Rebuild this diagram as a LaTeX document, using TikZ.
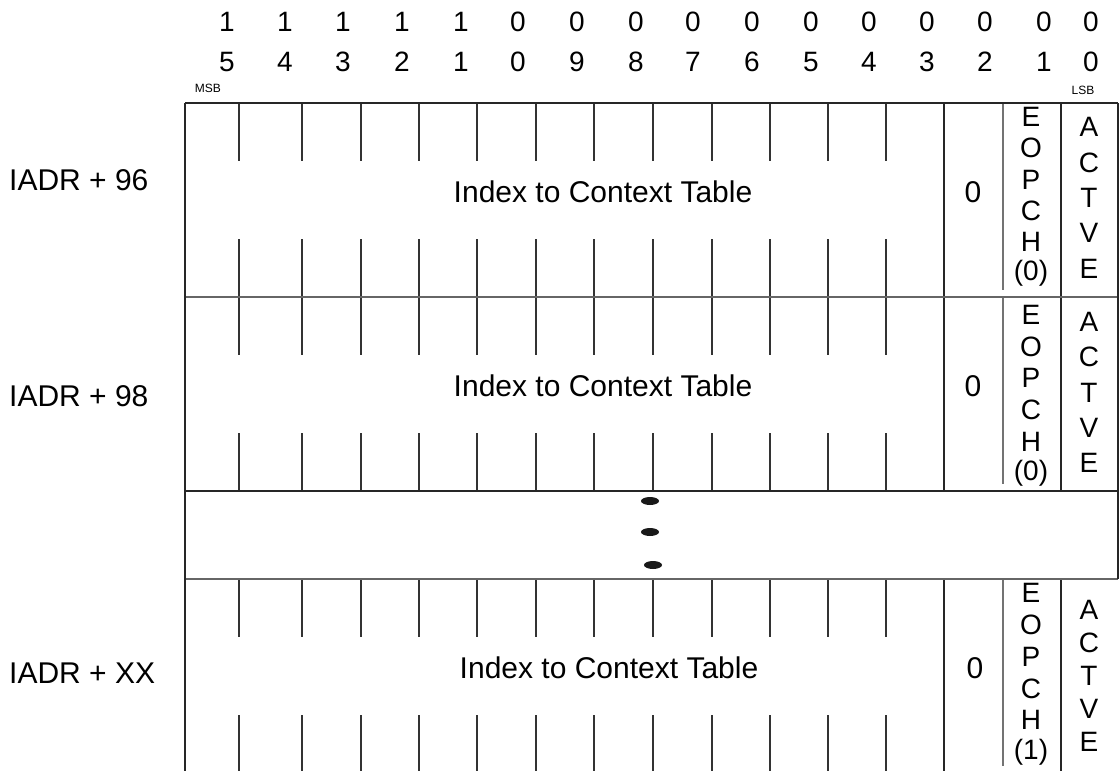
\documentclass[tikz,border=0pt]{standalone}
\usepackage{fontspec}
\setmainfont{Liberation Sans}
\begin{document}
\begin{tikzpicture}[x=1pt,y=-1pt,
  lbl/.style={font=\fontsize{30}{30}\selectfont, inner sep=0pt},
  hdr/.style={font=\fontsize{28}{28}\selectfont, inner sep=0pt},
  tiny/.style={font=\fontsize{12}{12}\selectfont, inner sep=0pt},
  vlet/.style={font=\fontsize{28}{28}\selectfont, inner sep=0pt},
  border/.style={line width=1.6pt, draw=black!85},
  sepline/.style={line width=1.4pt, draw=black!60},
  tickline/.style={line width=1.3pt, draw=black!80},
  thinline/.style={line width=1.2pt, draw=black!55}]
\useasboundingbox (0,0) rectangle (1120,771);

% header bit numbers
\foreach \x/\a/\b [count=\i] in {227/1/5,285/1/4,343/1/3,402/1/2,461/1/1,518/0/0,577/0/9,636/0/8,693/0/7,752/0/6,811/0/5,869/0/4,927/0/3,985/0/2,1044/0/1,1091/0/0}{
  \node[hdr] (hi\i) at (\x,22) {\a};
  \node[hdr] (hj\i) at (\x,62) {\b};
}
\node[tiny] (msb) at (208,88) {MSB};
\node[tiny] (lsb) at (1083,90) {LSB};

% rows
\foreach \t/\lab/\ly/\ix/\zx/\eo/\es/\ch/\ao/\as [count=\r] in
  {103/96/180/603/973/14/31.3/0/24/35.4,
   297/98/396/603/973/18/31.6/0/25/35.3,
   579/XX/673/609/975/14/31.8/1/31/33}{
  \foreach \x in {239,302,361,419,477,536,594,653,712,770,828,886}{
    \draw[tickline] (\x,\t) -- (\x,\t+58);
    \draw[tickline] (\x,\t+136) -- (\x,\t+194);
  }
  \draw[border] (944,\t) -- (944,\t+194);
  \draw[thinline] (1003,\t) -- (1003,\t+187);
  \draw[border] (1061,\t) -- (1061,\t+194);
  \node[lbl, anchor=west] (addr\r) at (9,\ly) {IADR + \lab};
  \node[lbl] (idx\r) at (\ix,\t+89) {Index to Context Table};
  \node[lbl] (zero\r) at (\zx,\t+89) {0};
  \foreach \c [count=\k from 0] in {E,O,P,C,H,(\ch)}{
    \node[vlet] (eop\r\k) at (1031,\t+\eo+\es*\k) {\c};
  }
  \foreach \c [count=\k from 0] in {A,C,T,V,E}{
    \node[vlet] (act\r\k) at (1089,\t+\ao+\as*\k) {\c};
  }
}

% frame
\draw[border] (185,103) -- (1118,103);
\draw[sepline] (185,297) -- (1118,297);
\draw[border] (185,491) -- (1118,491);
\draw[sepline] (185,579) -- (1118,579);
\draw[border] (185,103) -- (185,771);
\draw[border] (1118,103) -- (1118,579);

% continuation dots
\fill[black!90] (650,501) ellipse [x radius=9, y radius=4];
\fill[black!90] (650,532) ellipse [x radius=9, y radius=4];
\fill[black!90] (653,565) ellipse [x radius=9, y radius=4];
\end{tikzpicture}
\end{document}
